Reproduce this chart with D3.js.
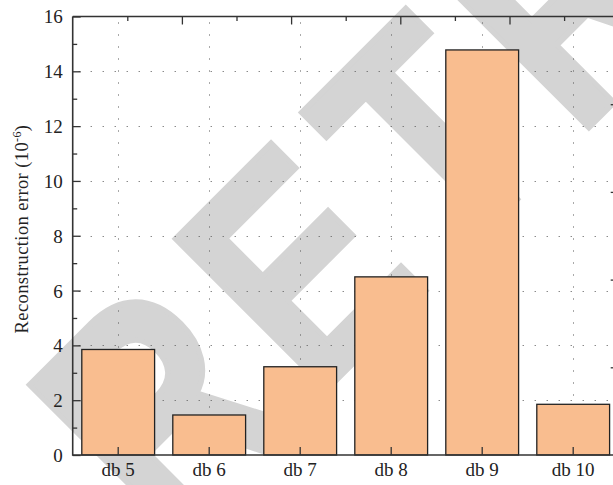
<!DOCTYPE html>
<html>
<head>
<meta charset="utf-8">
<script src="https://cdn.jsdelivr.net/npm/d3@7/dist/d3.min.js"></script>
<style>
  html, body { margin: 0; padding: 0; background: #fff; }
  svg { display: block; }
</style>
</head>
<body>
<svg id="chart" width="613" height="485"></svg>
<script>
// Reconstruction error per Daubechies wavelet order (units of 1e-6)
const categories = ["db 5", "db 6", "db 7", "db 8", "db 9", "db 10"];
const errors = [3.85, 1.46, 3.22, 6.50, 14.78, 1.85];
const majorTicks = [0, 2, 4, 6, 8, 10, 12, 14, 16];
const minorTicks = [1, 3, 5, 7, 9, 11, 13, 15];
const gridValues = [2, 4, 6, 8, 10, 12, 14];

const margin = { left: 72.7, top: 16.5 };
const plotW = 546, plotH = 438.5;
const x0 = margin.left, x1 = margin.left + plotW;
const y0 = margin.top + plotH, y1 = margin.top;
const serif = "'Liberation Serif', 'DejaVu Serif', serif";

const svg = d3.select("#chart");

const x = d3.scaleBand().domain(categories).range([x0, x1])
  .paddingInner(0.2).paddingOuter(0.1);
const y = d3.scaleLinear().domain([0, 16]).range([y0, y1]);

const axisColor = "#333";

// Condensed bold stamp running diagonally across the figure
svg.append("text")
  .attr("transform", "translate(168.4,547.8) rotate(-45) scale(0.81,1)")
  .attr("font-family", "'Liberation Sans', Arial, sans-serif")
  .attr("font-weight", "bold")
  .attr("font-size", 310)
  .attr("letter-spacing", 30.9)
  .attr("fill", "#d4d4d4")
  .attr("stroke", "#d4d4d4")
  .attr("stroke-width", 6)
  .attr("stroke-linejoin", "miter")
  .text("RETRACTED");

// Dotted grid
const grid = svg.append("g")
  .attr("stroke", "#555")
  .attr("stroke-width", 1)
  .attr("stroke-dasharray", "1,11");
grid.selectAll("line.h").data(gridValues).join("line")
  .attr("class", "h")
  .attr("x1", x0 + 6).attr("x2", x1)
  .attr("y1", d => Math.round(y(d)) + 0.5).attr("y2", d => Math.round(y(d)) + 0.5);
grid.selectAll("line.v").data(categories).join("line")
  .attr("class", "v")
  .attr("x1", d => Math.round(x(d) + x.bandwidth() / 2) + 0.5)
  .attr("x2", d => Math.round(x(d) + x.bandwidth() / 2) + 0.5)
  .attr("y1", y1 + 6).attr("y2", y0);

// Bars
svg.append("g").selectAll("rect").data(errors).join("rect")
  .attr("x", (d, i) => x(categories[i]))
  .attr("y", d => y(d))
  .attr("width", x.bandwidth())
  .attr("height", d => y0 - y(d))
  .attr("fill", "#f9bd8f")
  .attr("stroke", "#222")
  .attr("stroke-width", 1.3);

// Left axis: major ticks with labels, minor ticks without
const leftMajor = svg.append("g").attr("transform", `translate(${x0},0)`)
  .call(d3.axisLeft(y).tickValues(majorTicks).tickSize(-8).tickPadding(10).tickFormat(d3.format("d")));
leftMajor.selectAll(".tick text")
  .style("font-family", serif).style("font-size", "19px").attr("fill", "#222").attr("dy", "0.34em");
svg.append("g").attr("transform", `translate(${x0},0)`)
  .call(d3.axisLeft(y).tickValues(minorTicks).tickSize(-4.5).tickFormat(""));

// Bottom axis: category ticks pointing up
const bottom = svg.append("g").attr("transform", `translate(0,${y0})`)
  .call(d3.axisBottom(x).tickSize(-8).tickPadding(21));
bottom.selectAll(".tick text")
  .style("font-family", serif).style("font-size", "19px").attr("fill", "#222").attr("dy", "0");

// Top and right frame ticks
const xTop = d3.scaleLinear().domain([0, 10]).range([x0, x1]);
svg.append("g").attr("transform", `translate(0,${y1})`)
  .call(d3.axisTop(xTop).tickValues([2, 4, 6, 8]).tickSize(-8).tickFormat(""));
svg.append("g").attr("transform", `translate(0,${y1})`)
  .call(d3.axisTop(xTop).tickValues([1, 3, 5, 7, 9]).tickSize(-4.5).tickFormat(""));
const yRight = d3.scaleLinear().domain([0, 5]).range([y0, y1]);
svg.append("g").attr("transform", `translate(${x1},0)`)
  .call(d3.axisRight(yRight).tickValues([1, 2, 3, 4]).tickSize(-8).tickFormat(""));

svg.selectAll(".domain").remove();
svg.selectAll(".tick line").attr("stroke", axisColor).attr("stroke-width", 1.3);

// Frame lines
const frame = svg.append("g").attr("stroke", axisColor).attr("stroke-width", 1.6).attr("fill", "none");
frame.append("line").attr("x1", x0).attr("x2", x0).attr("y1", y1).attr("y2", y0 + 0.8);
frame.append("line").attr("x1", x0).attr("x2", x1).attr("y1", y0).attr("y2", y0);
frame.append("line").attr("x1", x0).attr("x2", x1).attr("y1", y1).attr("y2", y1);
frame.append("line").attr("x1", x1).attr("x2", x1).attr("y1", y1).attr("y2", y0);

// Y axis title
const title = svg.append("text")
  .attr("transform", "translate(28,229) rotate(-90)")
  .attr("text-anchor", "middle")
  .style("font-family", serif)
  .style("font-size", "18.5px")
  .attr("letter-spacing", 0.4)
  .attr("fill", "#222");
title.append("tspan").text("Reconstruction error (10");
title.append("tspan").style("font-size", "12px").attr("dy", -7).text("-6");
title.append("tspan").attr("dy", 7).text(")");
</script>
</body>
</html>
